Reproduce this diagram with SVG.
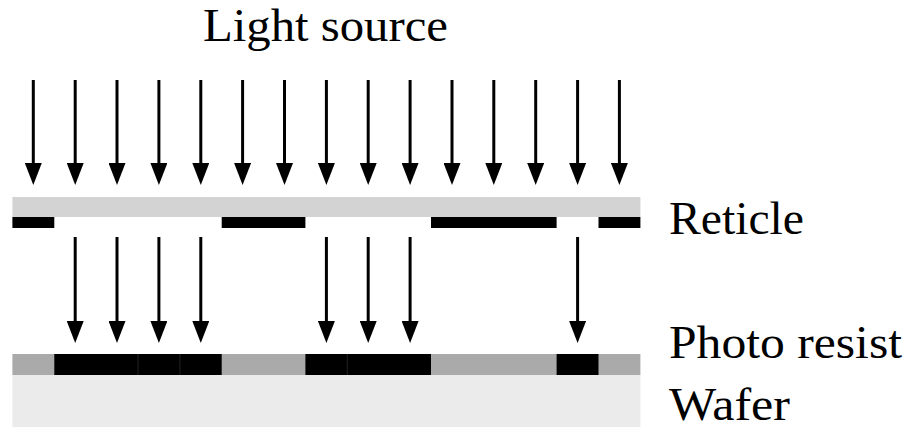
<svg xmlns="http://www.w3.org/2000/svg" width="913" height="429" viewBox="0 0 913 429">
  <style>
    .label { font-family: "Liberation Serif", "Times New Roman", serif; font-size: 46px; fill: #000; }
    .ray { stroke: #000; stroke-width: 3; marker-end: url(#head); }
    .chrome { fill: #000; }
    .glass { fill: #d3d3d3; }
    .resist { fill: #aaaaaa; }
    .exposed { fill: #000; }
    .wafer { fill: #ebebeb; }
    .seam { stroke: #222; stroke-width: 1; }
  </style>
  <defs>
    <marker id="head" markerUnits="userSpaceOnUse" markerWidth="22" markerHeight="17" viewBox="0 0 22 17" refX="7" refY="8.5" orient="auto">
      <path d="M0,0 L22,8.5 L0,17 Z" fill="#000"/>
    </marker>
  </defs>

  <rect width="913" height="429" fill="#fff"/>

  <g id="light-source">
    <text class="label" x="203" y="41" textLength="245" lengthAdjust="spacingAndGlyphs">Light source</text>
  </g>

  <g id="reticle">
    <rect class="glass" x="12.4" y="197" width="628" height="20"/>
    <rect class="chrome" x="12.4" y="217" width="41.9" height="11"/>
    <rect class="chrome" x="221.7" y="217" width="83.7" height="11"/>
    <rect class="chrome" x="431" y="217" width="125.6" height="11"/>
    <rect class="chrome" x="598.5" y="217" width="41.9" height="11"/>
    <text class="label" x="669" y="234" textLength="135" lengthAdjust="spacingAndGlyphs">Reticle</text>
  </g>

  <g id="photo-resist">
    <rect class="resist" x="12.4" y="354" width="628" height="21"/>
    <rect class="exposed" x="54.3" y="354" width="167.4" height="21"/>
    <rect class="exposed" x="305.4" y="354" width="125.6" height="21"/>
    <rect class="exposed" x="556.6" y="354" width="41.9" height="21"/>
    <line class="seam" x1="138" y1="354" x2="138" y2="375"/>
    <line class="seam" x1="179.9" y1="354" x2="179.9" y2="375"/>
    <line class="seam" x1="347.3" y1="354" x2="347.3" y2="375"/>
    <text class="label" x="669" y="358" textLength="233" lengthAdjust="spacingAndGlyphs">Photo resist</text>
  </g>

  <g id="wafer">
    <rect class="wafer" x="12.4" y="375" width="628" height="52"/>
    <text class="label" x="669" y="420" textLength="121" lengthAdjust="spacingAndGlyphs">Wafer</text>
  </g>

  <g id="connectors">
    <!-- incident light, one ray per cell -->
    <line class="ray" x1="33.3" y1="80" x2="33.3" y2="170"/>
    <line class="ray" x1="75.2" y1="80" x2="75.2" y2="170"/>
    <line class="ray" x1="117" y1="80" x2="117" y2="170"/>
    <line class="ray" x1="158.9" y1="80" x2="158.9" y2="170"/>
    <line class="ray" x1="200.8" y1="80" x2="200.8" y2="170"/>
    <line class="ray" x1="242.6" y1="80" x2="242.6" y2="170"/>
    <line class="ray" x1="284.5" y1="80" x2="284.5" y2="170"/>
    <line class="ray" x1="326.4" y1="80" x2="326.4" y2="170"/>
    <line class="ray" x1="368.2" y1="80" x2="368.2" y2="170"/>
    <line class="ray" x1="410.1" y1="80" x2="410.1" y2="170"/>
    <line class="ray" x1="452" y1="80" x2="452" y2="170"/>
    <line class="ray" x1="493.8" y1="80" x2="493.8" y2="170"/>
    <line class="ray" x1="535.7" y1="80" x2="535.7" y2="170"/>
    <line class="ray" x1="577.6" y1="80" x2="577.6" y2="170"/>
    <line class="ray" x1="619.4" y1="80" x2="619.4" y2="170"/>
    <!-- light passing the open reticle areas -->
    <line class="ray" x1="75.2" y1="237" x2="75.2" y2="328"/>
    <line class="ray" x1="117" y1="237" x2="117" y2="328"/>
    <line class="ray" x1="158.9" y1="237" x2="158.9" y2="328"/>
    <line class="ray" x1="200.8" y1="237" x2="200.8" y2="328"/>
    <line class="ray" x1="326.4" y1="237" x2="326.4" y2="328"/>
    <line class="ray" x1="368.2" y1="237" x2="368.2" y2="328"/>
    <line class="ray" x1="410.1" y1="237" x2="410.1" y2="328"/>
    <line class="ray" x1="577.6" y1="237" x2="577.6" y2="328"/>
  </g>
</svg>
